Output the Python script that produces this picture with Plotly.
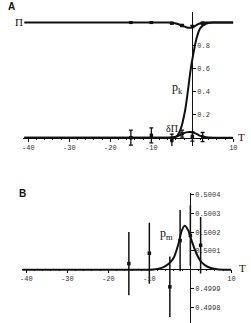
import plotly.graph_objects as go

# ---------------- Panel A data ----------------
T_data = [-15, -10, -5, -2.5, 0, 2.5]
pi_data = [1.0, 1.0, 0.995, 0.975, 0.965, 0.995]
pi_err = [0.006, 0.006, 0.008, 0.01, 0.01, 0.01]
dpi_data = [0.0, 0.02, -0.025, 0.035, 0.01, 0.005]
dpi_err = [0.065, 0.065, 0.055, 0.03, 0.04, 0.04]

T_pk = [-41, -10, -6, -4.8, -3.9, -2.9, -1.8, -1.0, -0.5, 0.2, 1.0, 1.9, 3.3, 5, 7, 10]
pk_curve = [0, 0, 0, 0.002, 0.01, 0.07, 0.23, 0.43, 0.57, 0.72, 0.86, 0.95, 0.99, 1, 1, 1]

T_pi = [-41, -10, -6, -4.5, -3.5, -2.5, -1.5, -0.6, 0.3, 1.2, 2.2, 3.5, 6, 10]
pi_curve = [1, 1, 1, 0.997, 0.988, 0.973, 0.96, 0.955, 0.963, 0.982, 0.996, 1, 1, 1]

T_dpi = [-41, -10, -6, -4.5, -3.5, -2.5, -1.5, -0.8, 0, 1, 2, 3, 4, 6, 10]
dpi_curve = [0, 0, 0, 0.004, 0.014, 0.032, 0.046, 0.05, 0.047, 0.033, 0.015, 0.005, 0.001, 0, 0]

A_yticks = [0.2, 0.4, 0.6, 0.8]
A_yticktext = ["0.2", "0.4", "0.6", "0.8"]
x_ticks = [-40, -30, -20, -10, 10]
x_ticktext = ["-40", "-30", "-20", "-10", "10"]

# ---------------- Panel B data ----------------
pm_data = [0.500033, 0.500088, 0.49991, 0.500155, 0.500182, 0.50013]
pm_err = [0.000167, 0.000162, 0.00016, 0.000162, 0.00016, 0.00015]

T_pm = [-41, -12, -9, -6.8, -5.2, -4.0, -2.9, -2.1, -1.4, -0.5, 0.3, 1.5, 2.7, 4.3, 6.5, 9, 10]
pm_curve = [0.5, 0.5, 0.500002, 0.500012, 0.500033, 0.500067, 0.500138, 0.500208,
            0.500234, 0.500208, 0.500155, 0.500085, 0.500041, 0.500015, 0.500003, 0.5, 0.5]

B_yticks = [0.5004, 0.5003, 0.5002, 0.5001, 0.4999, 0.4998]
B_yticktext = ["0.5004", "0.5003", "0.5002", "0.5001", "0.4999", "0.4998"]

W, H = 251, 323
BLACK = "#111111"
tickfont = dict(family="Liberation Mono, Courier New, monospace", size=7, color="#333333")
serif = "Liberation Serif, Times New Roman, serif"

fig = go.Figure()

line = dict(color=BLACK, width=2)
# Panel A curves
fig.add_trace(go.Scatter(x=T_pi, y=pi_curve, mode="lines", line=dict(line, shape="spline", smoothing=0.8),
                         xaxis="x", yaxis="y", cliponaxis=False))
fig.add_trace(go.Scatter(x=T_pk, y=pk_curve, mode="lines", line=dict(line, shape="spline", smoothing=0.8),
                         xaxis="x", yaxis="y", cliponaxis=False))
fig.add_trace(go.Scatter(x=T_dpi, y=dpi_curve, mode="lines", line=dict(line, shape="spline", smoothing=0.8),
                         xaxis="x", yaxis="y", cliponaxis=False))
# Panel A data points
fig.add_trace(go.Scatter(x=T_data, y=pi_data, mode="markers",
                         marker=dict(color=BLACK, size=3, symbol="square"),
                         error_y=dict(type="data", array=pi_err, color=BLACK, thickness=1.2, width=2),
                         xaxis="x", yaxis="y", cliponaxis=False))
fig.add_trace(go.Scatter(x=T_data, y=dpi_data, mode="markers",
                         marker=dict(color=BLACK, size=3.5, symbol="square"),
                         error_y=dict(type="data", array=dpi_err, color=BLACK, thickness=1.3, width=2),
                         xaxis="x", yaxis="y", cliponaxis=False))

# Panel B
fig.add_trace(go.Scatter(x=T_pm, y=pm_curve, mode="lines", line=dict(line, shape="spline", smoothing=0.8),
                         xaxis="x2", yaxis="y2", cliponaxis=False))
fig.add_trace(go.Scatter(x=T_data, y=pm_data, mode="markers",
                         marker=dict(color=BLACK, size=3.5, symbol="square"),
                         error_y=dict(type="data", array=pm_err, color=BLACK, thickness=1.5, width=0),
                         xaxis="x2", yaxis="y2", cliponaxis=False))

def px(x):
    return x / W

def py(y):
    return 1 - y / H

common_x = dict(showgrid=False, zeroline=False, showline=True, linecolor=BLACK, linewidth=1.2,
                ticks="outside", ticklen=3, tickcolor=BLACK, tickfont=tickfont,
                tickvals=x_ticks, ticktext=x_ticktext,
                minor=dict(dtick=2, ticklen=1.5, ticks="outside", tickcolor=BLACK))
common_y = dict(showgrid=False, zeroline=False, showline=True, linecolor=BLACK, linewidth=1,
                ticks="outside", ticklen=2.5, tickcolor=BLACK, tickfont=tickfont, side="right",
                anchor="free", layer="below traces")

fig.update_layout(
    width=W, height=H, margin=dict(l=0, r=0, t=0, b=0),
    paper_bgcolor="white", plot_bgcolor="rgba(0,0,0,0)", showlegend=False,
    xaxis=dict(common_x, domain=[px(22), px(237)], range=[-41.2, 10],
               anchor="free", position=py(136.5)),
    yaxis=dict(common_y, domain=[py(145), py(10)], range=[-0.0734, 1.0924],
               position=px(195), tickvals=A_yticks, ticktext=A_yticktext),
    xaxis2=dict(common_x, domain=[px(20.7), px(235)], range=[-41, 10],
                anchor="free", position=py(268.5)),
    yaxis2=dict(common_y, domain=[py(323), py(191.7)], range=[0.4997184, 0.5004095],
                position=px(192.9), tickvals=B_yticks, ticktext=B_yticktext),
)

def label(text, x, y, xref, yref, size, family):
    return dict(text=text, x=x, y=y, xref=xref, yref=yref, xanchor="center", yanchor="middle",
                showarrow=False, font=dict(family=family, size=size, color=BLACK))

sans = "Liberation Sans, Arial"
ann = [
    label("<b>A</b>", px(9.5), py(5), "paper", "paper", 10, sans),
    label("<b>B</b>", px(20.5), py(192.5), "paper", "paper", 10, sans),
    label("Π", px(17), py(20), "paper", "paper", 11, serif),
    label("T", px(245), py(136), "paper", "paper", 11, serif),
    label("T", px(246.5), py(268), "paper", "paper", 11, serif),
    label("p<sub>k</sub>", -3.6, 0.43, "x", "y", 12, serif),
    label("δΠ", -5.0, 0.08, "x", "y", 10, serif),
    label("p<sub>m</sub>", -5.9, 0.50019, "x2", "y2", 12, serif),
]
fig.update_layout(annotations=ann)

fig.write_html("out.html")
